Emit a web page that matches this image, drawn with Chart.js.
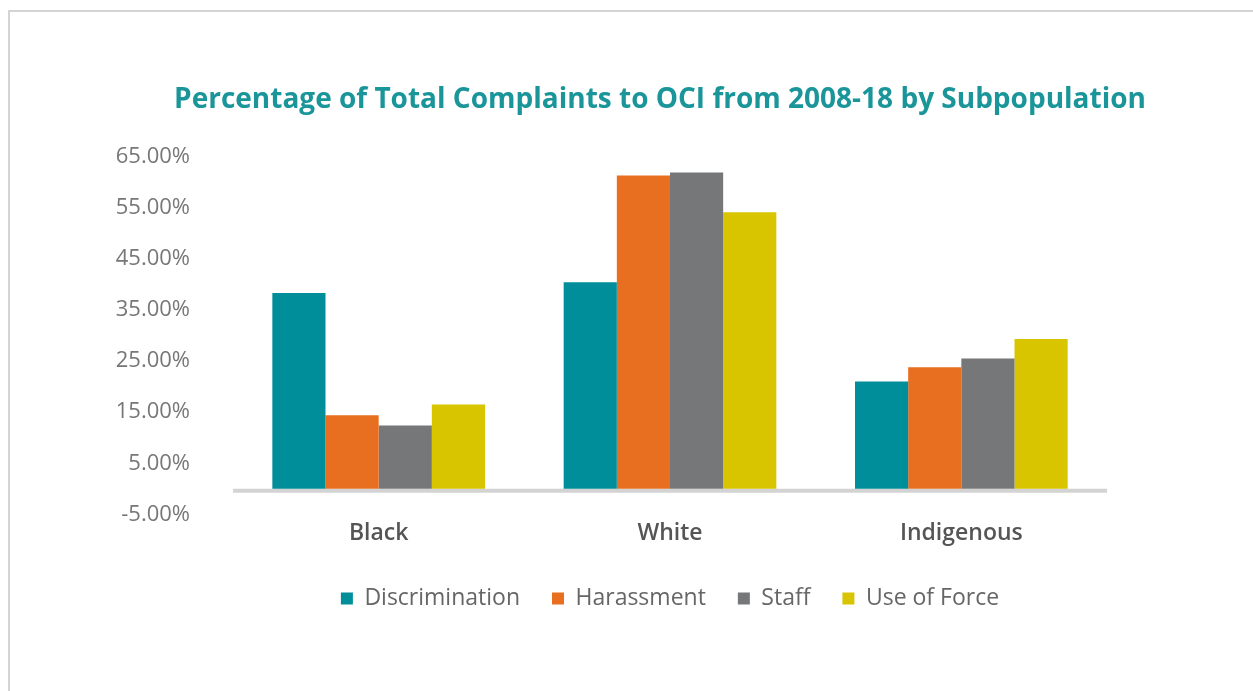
<!DOCTYPE html>
<html>
<head>
<meta charset="utf-8">
<script src="https://cdn.jsdelivr.net/npm/chart.js@4.4.1/dist/chart.umd.min.js"></script>
<style>
    html, body { margin: 0; padding: 0; background: #fff; }
    body { width: 1253px; height: 691px; position: relative; overflow: hidden; }
    .frame { position: absolute; left: 8px; top: 10px; right: -4px; bottom: -4px; border-top: 2px solid #d4d4d4; border-left: 2px solid #d4d4d4; }
    .wrap { position: absolute; left: 90px; top: 60px; width: 1140px; height: 560px; }
</style>
</head>
<body>
<div class="frame"></div>
<div class="wrap"><canvas id="complaintsChart"></canvas></div>
<script>
const groups = ['Black', 'White', 'Indigenous'];
const discrimination = [38.3, 40.4, 21.0];
const harassment = [14.4, 61.3, 23.8];
const staff = [12.4, 61.9, 25.5];
const useOfForce = [16.5, 54.1, 29.3];
const yTicks = [-5, 5, 15, 25, 35, 45, 55, 65];

document.addEventListener("DOMContentLoaded", function () {
    const ctx = document.getElementById('complaintsChart').getContext('2d');

    // grey baseline at zero, drawn under the bars
    const zeroLine = {
        id: 'zeroLine',
        beforeDatasetsDraw(chart) {
            const y = chart.scales.y.getPixelForValue(0);
            const c = chart.ctx;
            c.save();
            c.strokeStyle = '#d3d3d3';
            c.lineWidth = 4;
            c.beginPath();
            c.moveTo(chart.chartArea.left, y + 2);
            c.lineTo(chart.chartArea.right, y + 2);
            c.stroke();
            c.restore();
        }
    };

    new Chart(ctx, {
        type: 'bar',
        data: {
            labels: groups,
            datasets: [
                { label: 'Discrimination', data: discrimination, backgroundColor: '#008e9a' },
                { label: 'Harassment', data: harassment, backgroundColor: '#e86e20' },
                { label: 'Staff', data: staff, backgroundColor: '#767779' },
                { label: 'Use of Force', data: useOfForce, backgroundColor: '#d8c500' }
            ]
        },
        options: {
            responsive: true,
            maintainAspectRatio: false,
            animation: false,
            datasets: { bar: { categoryPercentage: 0.73, barPercentage: 1.0, borderWidth: 0 } },
            layout: { padding: 0 },
            plugins: {
                title: {
                    display: true,
                    text: 'Percentage of Total Complaints to OCI from 2008-18 by Subpopulation',
                    color: '#1a9599',
                    font: { family: 'Open Sans', size: 28, weight: 'bold' },
                    padding: { top: 23, bottom: 40 }
                },
                legend: {
                    position: 'bottom',
                    fullSize: false,
                    labels: {
                        boxWidth: 12,
                        boxHeight: 12,
                        padding: 32,
                        color: '#666',
                        font: { family: 'Open Sans', size: 23 }
                    }
                },
                tooltip: { enabled: false }
            },
            scales: {
                x: {
                    grid: { display: false, drawTicks: false },
                    border: { display: false },
                    afterFit: s => { s.height += 3; },
                    ticks: { color: '#555', padding: 5, font: { family: 'Open Sans', size: 23, weight: '600' } }
                },
                y: {
                    min: -5,
                    max: 65,
                    afterBuildTicks: s => { s.ticks = yTicks.map(v => ({ value: v })); },
                    afterFit: s => { s.width = 143; },
                    grid: { display: false, drawTicks: false },
                    border: { display: false },
                    ticks: {
                        color: '#777',
                        padding: 43,
                        font: { family: 'Open Sans', size: 22 },
                        callback: v => v.toFixed(2) + '%'
                    }
                },
                y2: {
                    position: 'right',
                    min: -5,
                    max: 65,
                    afterFit: s => { s.width = 123; },
                    grid: { display: false, drawTicks: false },
                    border: { display: false },
                    ticks: { display: false }
                }
            }
        },
        plugins: [zeroLine]
    });
});
</script>
</body>
</html>
